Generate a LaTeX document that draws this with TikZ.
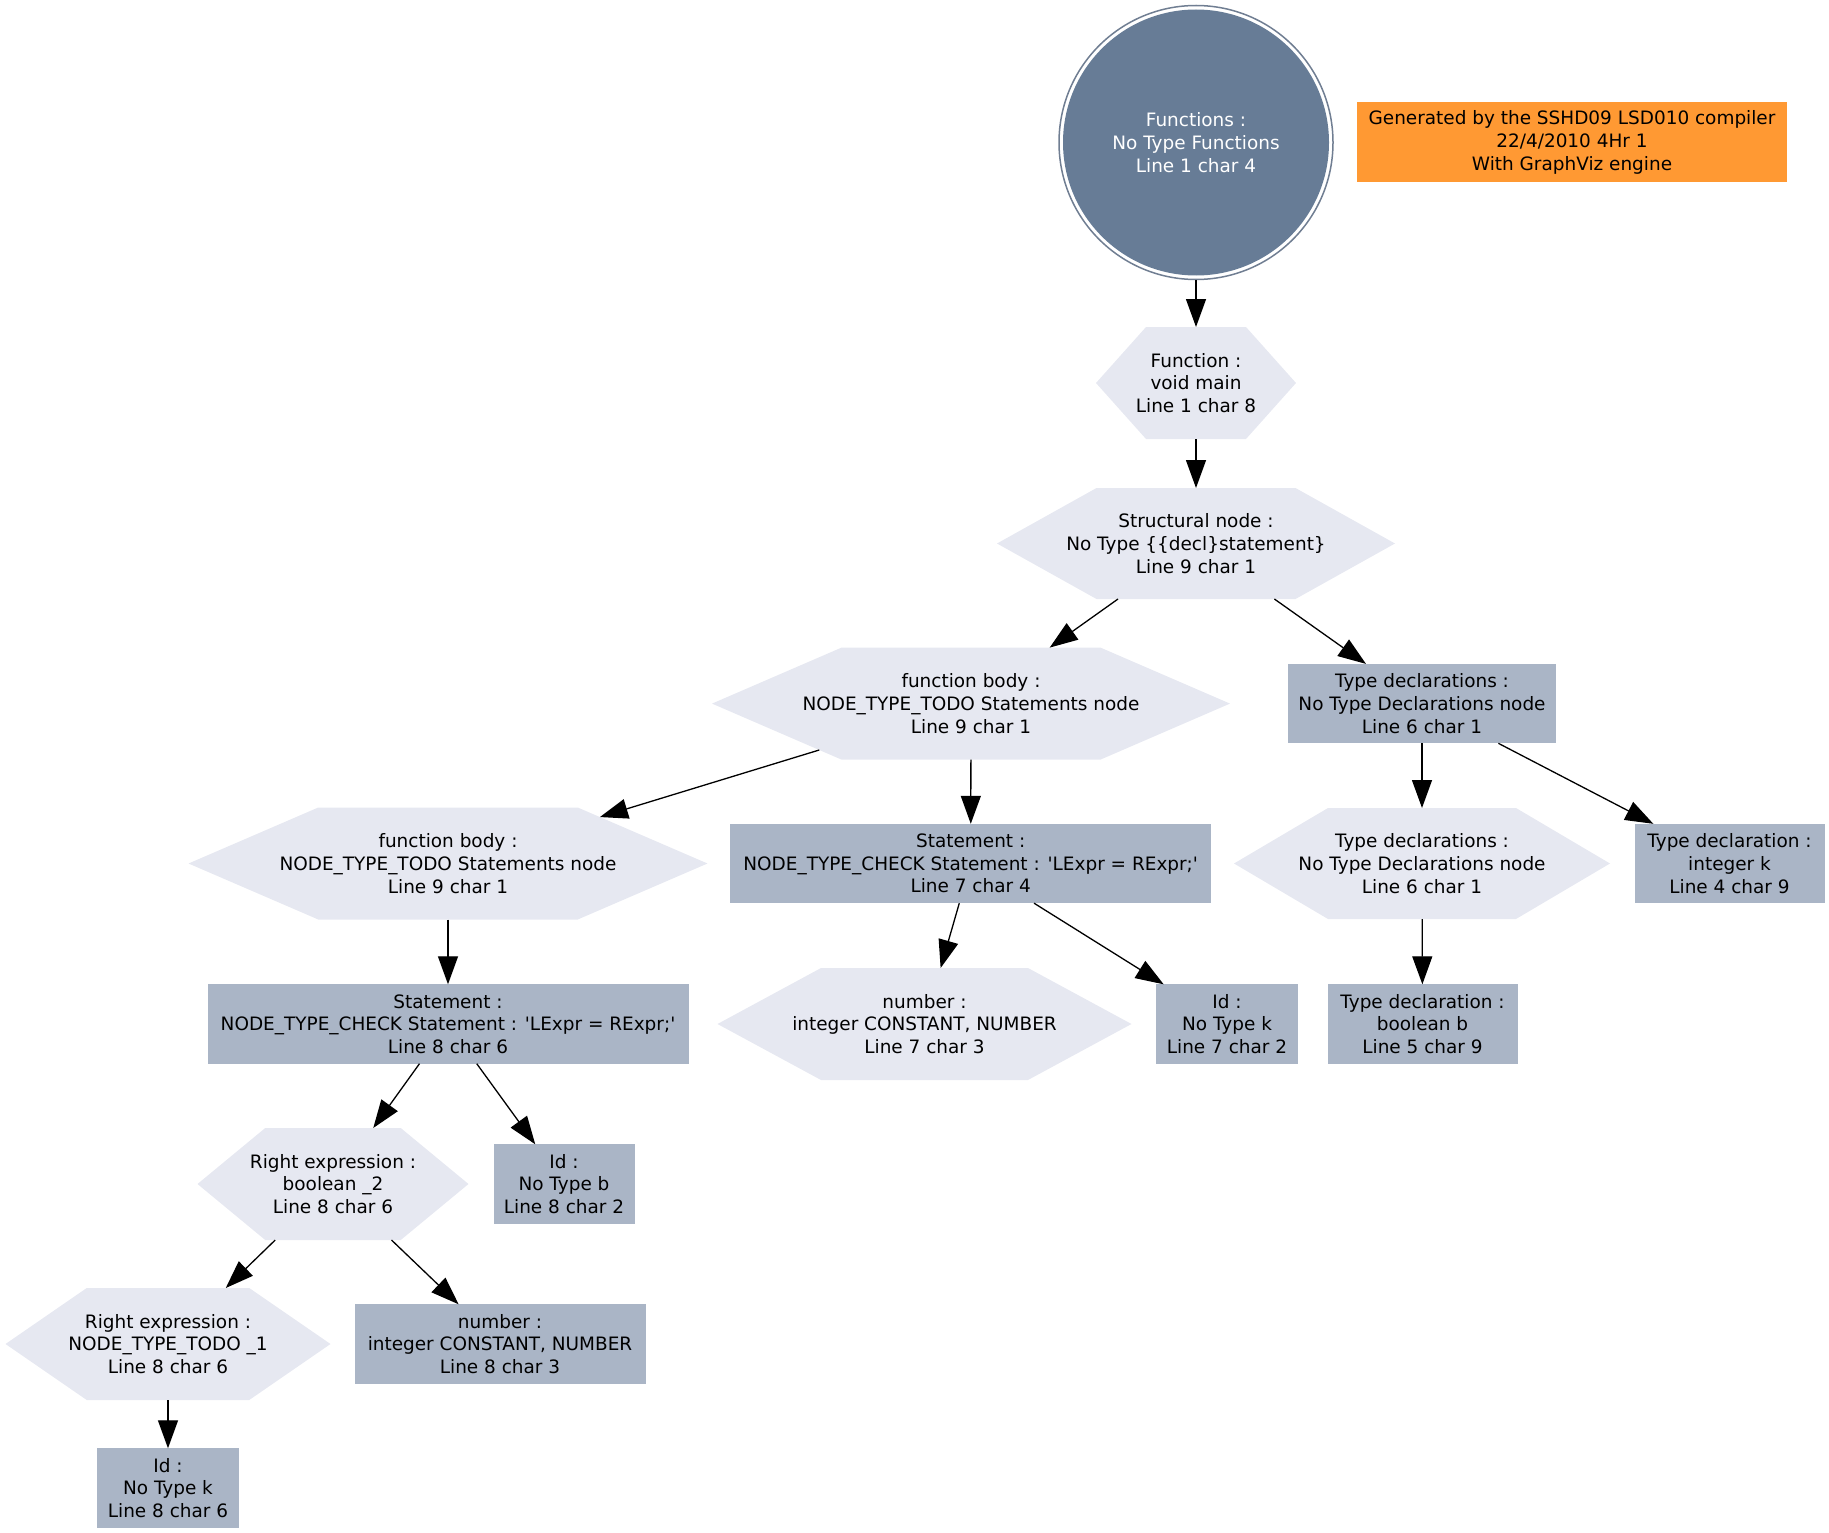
\documentclass[tikz,border=0pt]{standalone}
\usepackage{fontspec}
\setmainfont{DejaVu Sans}
\usetikzlibrary{arrows.meta}
\definecolor{slate}{RGB}{103,124,150}
\definecolor{ringgray}{RGB}{112,126,146}
\definecolor{hexfill}{RGB}{230,232,241}
\definecolor{recfill}{RGB}{170,181,198}
\definecolor{orng}{RGB}{255,153,51}
\makeatletter
\pgfdeclareshape{ghex}{%
  \inheritsavedanchors[from=rectangle]%
  \inheritanchor[from=rectangle]{center}%
  \inheritanchor[from=rectangle]{north}%
  \inheritanchor[from=rectangle]{south}%
  \inheritanchor[from=rectangle]{east}%
  \inheritanchor[from=rectangle]{west}%
  \inheritanchor[from=rectangle]{base}%
  \backgroundpath{%
    \southwest \edef\gh@xa{\the\pgf@x}\edef\gh@ya{\the\pgf@y}%
    \northeast \edef\gh@xb{\the\pgf@x}\edef\gh@yb{\the\pgf@y}%
    \pgf@xa=\gh@xa\relax \pgf@xb=\gh@xb\relax
    \pgf@xc=\pgf@xb \advance\pgf@xc by -\pgf@xa \pgf@xc=.25\pgf@xc
    \edef\gh@q{\the\pgf@xc}%
    \pgf@ya=\gh@ya\relax \pgf@yb=\gh@yb\relax
    \pgf@yc=.5\pgf@ya \advance\pgf@yc by .5\pgf@yb
    \edef\gh@ym{\the\pgf@yc}%
    \pgf@x=\gh@xa\relax \advance\pgf@x by \gh@q\relax \edef\gh@xl{\the\pgf@x}%
    \pgf@x=\gh@xb\relax \advance\pgf@x by -\gh@q\relax \edef\gh@xr{\the\pgf@x}%
    \pgfpathmoveto{\pgfqpoint{\gh@xa}{\gh@ym}}%
    \pgfpathlineto{\pgfqpoint{\gh@xl}{\gh@yb}}%
    \pgfpathlineto{\pgfqpoint{\gh@xr}{\gh@yb}}%
    \pgfpathlineto{\pgfqpoint{\gh@xb}{\gh@ym}}%
    \pgfpathlineto{\pgfqpoint{\gh@xr}{\gh@ya}}%
    \pgfpathlineto{\pgfqpoint{\gh@xl}{\gh@ya}}%
    \pgfpathclose
  }%
  \anchorborder{%
    \edef\gh@dx{\pgf@sys@tonumber\pgf@x}%
    \edef\gh@dy{\pgf@sys@tonumber\pgf@y}%
    \southwest \edef\gh@xa{\pgf@sys@tonumber\pgf@x}\edef\gh@ya{\pgf@sys@tonumber\pgf@y}%
    \northeast \edef\gh@xb{\pgf@sys@tonumber\pgf@x}\edef\gh@yb{\pgf@sys@tonumber\pgf@y}%
    \pgfmathsetmacro\gh@W{(\gh@xb-\gh@xa)/2}%
    \pgfmathsetmacro\gh@H{(\gh@yb-\gh@ya)/2}%
    \pgfmathsetmacro\gh@cx{(\gh@xb+\gh@xa)/2}%
    \pgfmathsetmacro\gh@cy{(\gh@yb+\gh@ya)/2}%
    \pgfmathsetmacro\gh@m{max(abs(\gh@dx),abs(\gh@dy),0.001)}%
    \pgfmathsetmacro\gh@a{\gh@dx/\gh@m}%
    \pgfmathsetmacro\gh@b{\gh@dy/\gh@m}%
    \pgfmathsetmacro\gh@n{max(sqrt(\gh@a*\gh@a+\gh@b*\gh@b),0.001)}%
    \pgfmathsetmacro\gh@ux{abs(\gh@a)/\gh@n}%
    \pgfmathsetmacro\gh@uy{abs(\gh@b)/\gh@n}%
    \pgfmathsetmacro\gh@ta{\gh@H/max(\gh@uy,0.01)}%
    \pgfmathsetmacro\gh@tb{\gh@W/(\gh@ux+\gh@uy*\gh@W/(2*\gh@H))}%
    \pgfmathsetmacro\gh@t{(\gh@ux*\gh@H < \gh@uy*\gh@W/2) ? \gh@ta : \gh@tb}%
    \pgfmathsetmacro\gh@px{\gh@cx+\gh@t*\gh@a/\gh@n}%
    \pgfmathsetmacro\gh@py{\gh@cy+\gh@t*\gh@b/\gh@n}%
    \pgf@x=\gh@px pt\relax
    \pgf@y=\gh@py pt\relax
  }%
}
\makeatother
\tikzset{
  hexnode/.style={shape=ghex, fill=hexfill, inner sep=0pt, outer sep=0pt, align=center, minimum height=112pt},
  recnode/.style={shape=rectangle, fill=recfill, inner sep=0pt, outer sep=0pt, align=center, minimum height=79.4pt},
  conn/.style={draw=black, line width=1.3pt, -{Triangle[length=28pt,width=20pt]}},
  ringline/.style={draw=ringgray, line width=1.5pt},
}
\begin{document}
\begin{tikzpicture}[x=1pt,y=-1pt,font=\fontsize{18.45pt}{22.7pt}\selectfont]
\useasboundingbox (0,0) rectangle (1829,1533);
% row 0
\node[shape=circle, fill=slate, text=white, inner sep=0pt, outer sep=4.5pt, minimum size=266pt, align=center] (F0) at (1196,142.5) {Functions :\\ No Type Functions\\Line 1 char 4};
\draw[ringline] (F0.center) circle (137);
\node[shape=rectangle, fill=orng, inner sep=0pt, outer sep=0pt, align=center, minimum width=430pt, minimum height=80pt] (gen) at (1572,142.5) {Generated by the SSHD09 LSD010 compiler\\22/4/2010 4Hr 1\\With GraphViz engine};
% row 1-2
\node[hexnode, minimum width=200pt] (func) at (1196,383) {Function :\\ void main\\Line 1 char 8};
\node[hexnode, minimum width=398pt, minimum height=111pt] (struct) at (1196,543.5) {Structural node :\\No Type \{\{decl\}statement\}\\Line 9 char 1};
% row 3
\node[hexnode, minimum width=518pt] (fb1) at (971,703.6) {function body :\\NODE\_TYPE\_TODO Statements node\\Line 9 char 1};
\node[recnode, minimum width=268pt] (tdr) at (1422,703.6) {Type declarations :\\No Type Declarations node\\Line 6 char 1};
% row 4
\node[hexnode, minimum width=519pt] (fb2) at (448,863.5) {function body :\\NODE\_TYPE\_TODO Statements node\\Line 9 char 1};
\node[recnode, minimum width=481pt] (s7) at (970.7,863.5) {Statement :\\NODE\_TYPE\_CHECK Statement : \textquotesingle LExpr = RExpr;\textquotesingle\\Line 7 char 4};
\node[hexnode, minimum width=376pt, minimum height=111pt] (tdh) at (1422,863.5) {Type declarations :\\No Type Declarations node\\Line 6 char 1};
\node[recnode, minimum width=190pt] (intk) at (1729.5,863.5) {Type declaration :\\ integer k\\Line 4 char 9};
% row 5
\node[recnode, minimum width=481pt] (s8) at (448,1024) {Statement :\\NODE\_TYPE\_CHECK Statement : \textquotesingle LExpr = RExpr;\textquotesingle\\Line 8 char 6};
\node[hexnode, minimum width=414pt] (num7) at (924.5,1024) {number :\\integer CONSTANT, NUMBER\\Line 7 char 3};
\node[recnode, minimum width=142pt] (idk7) at (1227,1024) {Id :\\No Type k\\Line 7 char 2};
\node[recnode, minimum width=190pt] (boolb) at (1422.5,1024) {Type declaration :\\ boolean b\\Line 5 char 9};
% row 6
\node[hexnode, minimum width=271pt] (re2) at (333,1184) {Right expression :\\boolean \_2\\Line 8 char 6};
\node[recnode, minimum width=141pt] (idb) at (564,1184) {Id :\\No Type b\\Line 8 char 2};
% row 7
\node[hexnode, minimum width=325pt] (re1) at (168,1344) {Right expression :\\NODE\_TYPE\_TODO \_1\\Line 8 char 6};
\node[recnode, minimum width=291pt] (num8) at (500,1344) {number :\\integer CONSTANT, NUMBER\\Line 8 char 3};
% row 8
\node[recnode, minimum width=142pt] (idk8) at (168,1488) {Id :\\No Type k\\Line 8 char 6};
% connectors
\draw[conn] (F0) -- (func);
\draw[conn] (func) -- (struct);
\draw[conn] (struct) -- (fb1);
\draw[conn] (struct) -- (tdr);
\draw[conn] (fb1) -- (fb2);
\draw[conn] (fb1) -- (s7);
\draw[conn] (fb2) -- (s8);
\draw[conn] (s8) -- (re2);
\draw[conn] (s8) -- (idb);
\draw[conn] (re2) -- (re1);
\draw[conn] (re2) -- (num8);
\draw[conn] (re1) -- (idk8);
\draw[conn] (s7) -- (num7);
\draw[conn] (s7) -- (idk7);
\draw[conn] (tdr) -- (tdh);
\draw[conn] (tdr) -- (intk);
\draw[conn] (tdh) -- (boolb);
\end{tikzpicture}
\end{document}
